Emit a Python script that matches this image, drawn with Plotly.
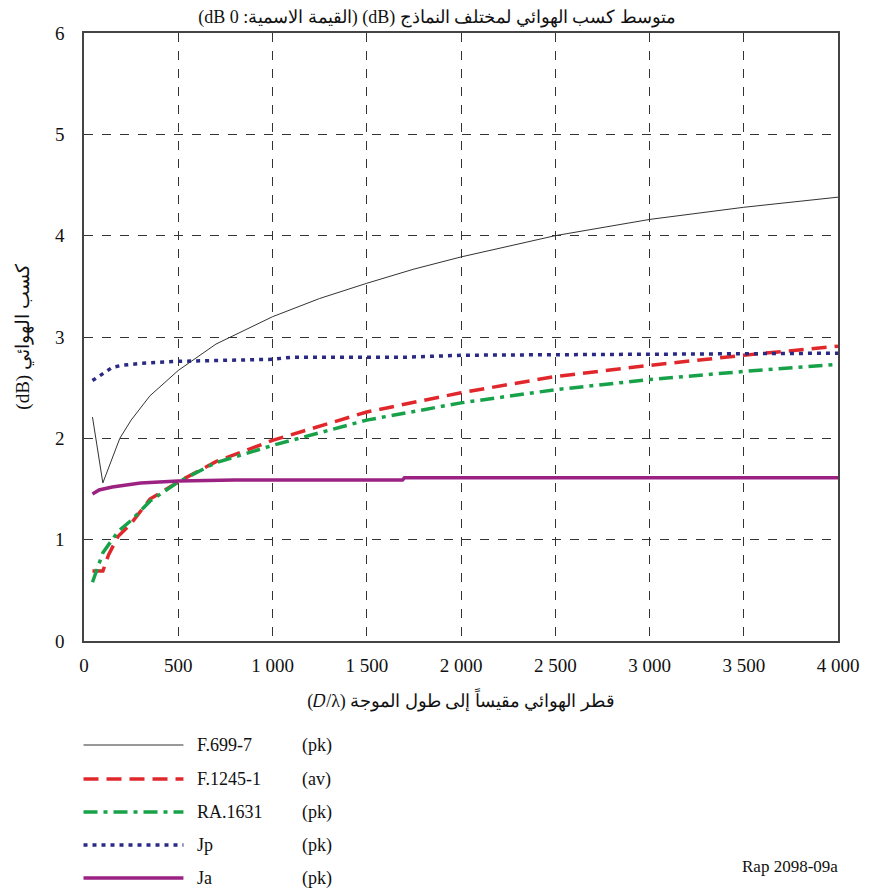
import plotly.graph_objects as go

# ---- data ----
d_f699 = [45, 100, 190, 250, 350, 500, 700, 1000, 1250, 1500, 1750, 2000, 2500, 3000, 3500, 4000]
g_f699 = [2.21, 1.56, 2.0, 2.18, 2.42, 2.67, 2.93, 3.2, 3.38, 3.53, 3.67, 3.79, 4.0, 4.16, 4.28, 4.38]

d_f1245 = [45, 100, 130, 180, 250, 350, 500, 700, 1000, 1500, 2000, 2500, 3000, 3500, 4000]
g_f1245 = [0.69, 0.69, 0.85, 1.03, 1.16, 1.40, 1.57, 1.77, 1.98, 2.26, 2.45, 2.61, 2.72, 2.82, 2.91]

d_ra1631 = [45, 100, 180, 250, 350, 500, 700, 1000, 1500, 2000, 2500, 3000, 3500, 4000]
g_ra1631 = [0.58, 0.87, 1.08, 1.19, 1.38, 1.57, 1.76, 1.93, 2.18, 2.35, 2.48, 2.58, 2.66, 2.73]

d_jp = [45, 100, 150, 200, 300, 500, 700, 1000, 1100, 1700, 2000, 3000, 4000]
g_jp = [2.57, 2.64, 2.70, 2.72, 2.74, 2.76, 2.77, 2.78, 2.80, 2.80, 2.82, 2.83, 2.84]

d_ja = [45, 80, 150, 300, 500, 800, 1690, 1700, 4000]
g_ja = [1.45, 1.49, 1.52, 1.56, 1.58, 1.59, 1.59, 1.61, 1.61]

x_tickvals = [0, 500, 1000, 1500, 2000, 2500, 3000, 3500, 4000]
x_ticktext = ["0", "500", "1 000", "1 500", "2 000", "2 500", "3 000", "3 500", "4 000"]
y_tickvals = [0, 1, 2, 3, 4, 5, 6]

series_names = ["F.699-7", "F.1245-1", "RA.1631", "Jp", "Ja"]
series_kinds = ["(pk)", "(av)", "(pk)", "(pk)", "(pk)"]

RLE, PDF = "\u202B", "\u202C"
title_text = RLE + "متوسط كسب الهوائي لمختلف النماذج (dB) (القيمة الاسمية: 0 dB)" + PDF
x_title = RLE + "قطر الهوائي مقيساً إلى طول الموجة (\U0001D437/λ)" + PDF
y_title = RLE + "كسب الهوائي (dB)" + PDF

# ---- styles ----
styles = [
    dict(color="#333333", width=1, dash="solid"),
    dict(color="#e0282c", width=3.5, dash="15px,8px"),
    dict(color="#17a24a", width=3.5, dash="14px,6px,4px,6px"),
    dict(color="#2a2a86", width=3.5, dash="4px,5px"),
    dict(color="#9b2282", width=3.5, dash="solid"),
]
xs = [d_f699, d_f1245, d_ra1631, d_jp, d_ja]
ys = [g_f699, g_f1245, g_ra1631, g_jp, g_ja]

FONT = "Liberation Serif"
W, H = 874, 892
L, R, T, B = 83.5, 838, 33, 641

fig = go.Figure()
for x, y, st, nm in zip(xs, ys, styles, series_names):
    fig.add_trace(go.Scatter(x=x, y=y, mode="lines", name=nm, line=st, showlegend=False))

def px2paper(px, py):
    return (px - L) / (R - L), (B - py) / (B - T)

shapes = []
annotations = []
rows_y = [745, 779, 812, 845, 878]
for st, nm, kind, ry in zip(styles, series_names, series_kinds, rows_y):
    x0, y0 = px2paper(83, ry)
    x1, _ = px2paper(183, ry)
    shapes.append(dict(type="line", xref="paper", yref="paper", x0=x0, x1=x1, y0=y0, y1=y0,
                       line=dict(color=st["color"], width=st["width"], dash=st["dash"])))
    tx, ty = px2paper(195, ry)
    annotations.append(dict(xref="paper", yref="paper", x=tx, y=ty, xanchor="left", yanchor="middle",
                            text=nm, showarrow=False, font=dict(family=FONT, size=18, color="#111")))
    kx, _ = px2paper(300, ry)
    annotations.append(dict(xref="paper", yref="paper", x=kx, y=ty, xanchor="left", yanchor="middle",
                            text=kind, showarrow=False, font=dict(family=FONT, size=18, color="#111")))

rx, ry2 = px2paper(840, 866)
annotations.append(dict(xref="paper", yref="paper", x=rx, y=ry2, xanchor="right", yanchor="middle",
                        text="Rap 2098-09a", showarrow=False, font=dict(family=FONT, size=17, color="#111")))

fig.update_layout(
    width=W, height=H,
    margin=dict(l=L, r=W - R, t=T, b=H - B, pad=0),
    paper_bgcolor="white", plot_bgcolor="white",
    font=dict(family=FONT, size=18, color="#111"),
    title=dict(text=title_text,
               x=0.5, xanchor="center", y=1 - 17 / H, yanchor="middle",
               font=dict(family=FONT, size=18, color="#111")),
    xaxis=dict(range=[0, 4000], tickvals=x_tickvals, ticktext=x_ticktext,
               showgrid=True, gridcolor="#333", griddash="dash", gridwidth=1,
               showline=True, linecolor="#444", linewidth=1.5, mirror=True,
               ticks="outside", ticklen=6, tickcolor="rgba(0,0,0,0)",
               zeroline=False, tickfont=dict(family=FONT, size=19),
               title=dict(text=x_title, standoff=20, font=dict(family=FONT, size=18))),
    yaxis=dict(range=[0, 6], tickvals=y_tickvals,
               showgrid=True, gridcolor="#333", griddash="dash", gridwidth=1,
               showline=True, linecolor="#444", linewidth=1.5, mirror=True,
               ticks="outside", ticklen=14, tickcolor="rgba(0,0,0,0)",
               zeroline=False, tickfont=dict(family=FONT, size=19),
               title=dict(text=y_title, standoff=20, font=dict(family=FONT, size=19))),
    shapes=shapes,
    annotations=annotations,
    showlegend=False,
)

fig.write_html("out.html")
